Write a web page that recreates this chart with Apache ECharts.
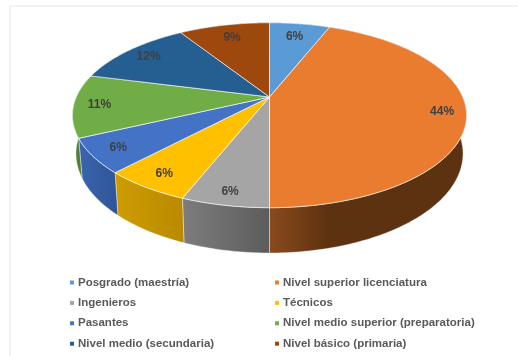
<!DOCTYPE html>
<html>
<head>
<meta charset="utf-8">
<script src="https://cdn.jsdelivr.net/npm/echarts@6/dist/echarts.min.js"></script>
<style>
  html, body { margin: 0; padding: 0; background: #fff; }
  #chart-container { width: 518px; height: 356px; filter: blur(0.45px); }
</style>
</head>
<body>
<div id="chart-container"></div>
<script>
// Datos
var categorias = [
  "Posgrado (maestría)", "Nivel superior licenciatura", "Ingenieros", "Técnicos",
  "Pasantes", "Nivel medio superior (preparatoria)", "Nivel medio (secundaria)", "Nivel básico (primaria)"
];
var valores = [6, 44, 6, 6, 6, 11, 12, 9];

var colores = ["#5b9bd5", "#ea7c30", "#a5a5a5", "#ffc000", "#4472c4", "#70ad47", "#255e91", "#9e480e"];
var coloresLado = [
  ["#3f6f99", "#37648c"], ["#8a4a1e", "#5d3210"], ["#7d7d7d", "#5c5c5c"], ["#cf9c00", "#b98a00"],
  ["#3a64b0", "#2f5597"], ["#4f7a30", "#5a8a38"], ["#1c466c", "#1c466c"], ["#733409", "#733409"]
];
// Distancia de cada etiqueta al centro (1 = borde)
var radioEtiqueta = [0.8, 0.88, 0.9, 0.87, 0.87, 0.87, 0.85, 0.8];

// Perspectiva del disco
var ax = 269.5, ay = 97, R = 193.2, H = 88.9, p = 0.197;
var total = valores.reduce(function (a, b) { return a + b; }, 0);

function proyectar(ang, r) {
  var s = Math.sin(ang), c = Math.cos(ang), w = 1 + p * r * c;
  return [ax + R * r * s / w, ay - H * r * c / w];
}
// El borde inferior del cilindro
function abajo(pt) {
  return [ax + (pt[0] - ax) * 0.982, pt[1] + 45.3 - 0.075 * (207.7 - pt[1])];
}
function arco(a0, a1) {
  var n = Math.max(2, Math.ceil((a1 - a0) * 60)), pts = [];
  for (var i = 0; i <= n; i++) {
    pts.push(proyectar(a0 + (a1 - a0) * i / n, 1));
  }
  return pts;
}

function dibujar(i) {
  return function (params, api) {
    var a0 = api.value(1) / total * Math.PI * 2;
    var a1 = (api.value(1) + api.value(0)) / total * Math.PI * 2;
    var borde = arco(a0, a1);
    var lado = borde.concat(borde.map(abajo).reverse());
    var mid = (a0 + a1) / 2;
    var et = proyectar(mid, radioEtiqueta[i]);
    return {
      type: 'group',
      children: [
        {
          type: 'polygon', z2: 1 + i,
          shape: { points: lado },
          style: {
            fill: new echarts.graphic.LinearGradient(0, 0, 1, 0, [
              { offset: 0, color: coloresLado[i][0] },
              { offset: i === 1 ? 0.3 : 1, color: coloresLado[i][1] },
              { offset: 1, color: coloresLado[i][1] }
            ]),
            stroke: 'rgba(255,255,255,0.5)', lineWidth: 0.8
          }
        },
        {
          type: 'polygon', z2: 20,
          shape: { points: [[ax, ay]].concat(borde) },
          style: { fill: colores[i], stroke: 'rgba(255,255,255,0.7)', lineWidth: 0.9 }
        },
        {
          type: 'text', z2: 30,
          style: {
            text: api.value(0) + '%', x: et[0], y: et[1], align: 'center', verticalAlign: 'middle',
            fill: '#404040', font: 'bold 12px "Liberation Sans", Arial, sans-serif'
          }
        }
      ]
    };
  };
}

var acumulado = 0;
var series = categorias.map(function (nombre, i) {
  var item = {
    name: nombre,
    type: 'custom',
    coordinateSystem: 'none',
    silent: true,
    animation: false,
    itemStyle: { color: colores[i] },
    renderItem: dibujar(i),
    data: [[valores[i], acumulado]]
  };
  acumulado += valores[i];
  return item;
});

function leyenda(left, nombres) {
  return {
    orient: 'vertical', left: left, top: 276.5,
    icon: 'rect', itemWidth: 4, itemHeight: 4, itemGap: 8.4, padding: 0,
    selectedMode: false,
    textStyle: {
      color: '#595959', fontSize: 11.5, fontWeight: 'bold', padding: [0, 0, 0, -1],
      fontFamily: '"Liberation Sans", Arial, sans-serif'
    },
    data: nombres
  };
}

var chart = echarts.init(document.getElementById('chart-container'), null, { renderer: 'canvas' });
chart.setOption({
  backgroundColor: '#fff',
  animation: false,
  legend: [
    leyenda(70, categorias.filter(function (n, i) { return i % 2 === 0; })),
    leyenda(275, categorias.filter(function (n, i) { return i % 2 === 1; }))
  ],
  // Marco claro de la imagen original
  graphic: [{
    type: 'polyline', silent: true, z: -1,
    shape: { points: [[10, 356], [10, 6], [518, 6]] },
    style: { fill: null, stroke: '#e6e6e6', lineWidth: 1 }
  }],
  series: series
});
</script>
</body>
</html>
